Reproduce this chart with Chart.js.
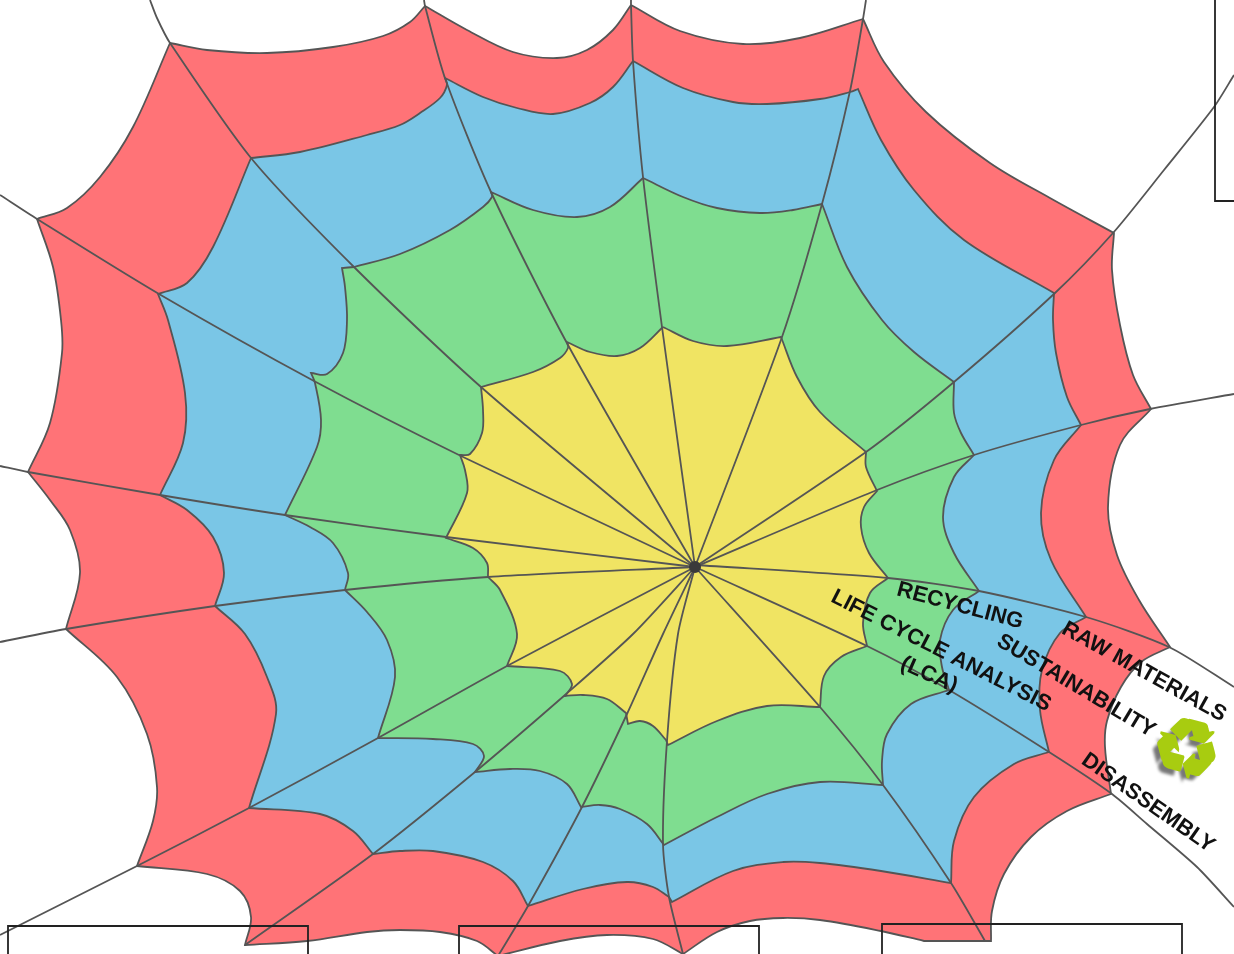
<!DOCTYPE html>
<html>
<head>
<meta charset="utf-8">
<style>
  html, body { margin: 0; padding: 0; background: #fff; overflow: hidden; }
  canvas { display: block; }
</style>
<script src="https://cdn.jsdelivr.net/npm/chart.js@4/dist/chart.umd.min.js"></script>
</head>
<body>
<canvas id="web" width="1234" height="954"></canvas>
<script>
// every ring is a list of arcs, one arc between two neighbouring spokes
const redRing = [
  [[631,5],[680,31],[743,44],[800,38],[863,19]],
  [[863,19],[884,62],[926,112],[990,163],[1050,198],[1114,233]],
  [[1114,233],[1112,270],[1120,325],[1133,375],[1151,409]],
  [[1151,409],[1120,445],[1108,507],[1117,555],[1139,600],[1170,647]],
  [[1170,647],[1141,662],[1121,687],[1107,721],[1105,747],[1111,794]],
  [[1111,794],[1067,811],[1031,837],[1004,874],[992,911],[991,941]],
  [[991,941],[924,941]],
  [[924,941],[881,931],[820,920],[783,918],[750,921],[717,932],[683,954]],
  [[683,954],[653,939],[607,935],[560,941],[498,956]],
  [[498,956],[477,941],[440,932],[400,930],[367,932],[307,941],[245,945]],
  [[245,945],[251,917],[240,891],[207,874],[137,866]],
  [[137,866],[153,821],[157,787],[147,734],[117,677],[66,629]],
  [[66,629],[80,573],[70,530],[50,500],[28,472]],
  [[28,472],[50,423],[62,353],[61,320],[53,267],[37,219]],
  [[37,219],[67,208],[100,177],[133,127],[170,43]],
  [[170,43],[207,50],[267,53],[333,47],[383,36],[410,22],[425,6]],
  [[425,6],[467,30],[513,52],[557,58],[587,50],[613,30],[631,5]]
];
const blueRing = [
  [[633,61],[683,88],[733,102],[767,104],[820,99],[850,92],[858,89]],
  [[858,89],[881,140],[914,190],[964,240],[1054,293]],
  [[1054,293],[1053,320],[1056,353],[1067,397],[1081,425]],
  [[1081,425],[1054,460],[1041,513],[1051,560],[1086,617]],
  [[1086,617],[1060,633],[1042,670],[1040,710],[1049,752]],
  [[1049,752],[1014,764],[974,797],[954,841],[951,883]],
  [[951,883],[881,871],[820,863],[783,862],[733,871],[672,902]],
  [[672,902],[669,897]],
  [[669,897],[653,887],[627,882],[583,889],[528,906]],
  [[528,906],[513,881],[483,862],[433,851],[400,851],[373,854]],
  [[373,854],[353,831],[320,814],[249,808]],
  [[249,808],[276,714],[267,677],[245,634],[215,606]],
  [[215,606],[224,573],[213,537],[187,510],[160,495]],
  [[160,495],[183,443],[185,393],[168,320],[158,294]],
  [[158,294],[187,283],[213,247],[251,158]],
  [[251,158],[300,152],[367,135],[400,125],[420,113],[440,98],[447,85],[445,78]],
  [[445,78],[483,97],[517,108],[553,114],[590,103],[613,87],[633,61]]
];
const greenRing = [
  [[643,178],[683,197],[717,208],[760,213],[793,210],[822,204]],
  [[822,204],[847,267],[882,320],[914,352],[954,382]],
  [[954,382],[954,413],[961,433],[974,455]],
  [[974,455],[954,477],[943,517],[954,553],[979,591]],
  [[979,591],[953,610],[940,640],[942,667],[949,690]],
  [[949,690],[911,704],[887,734],[882,761],[883,785]],
  [[883,785],[820,782],[767,794],[717,817],[664,845]],
  [[664,845],[647,824],[620,809],[600,805],[581,807]],
  [[581,807],[567,784],[540,771],[510,769],[475,772]],
  [[475,772],[484,756],[473,744],[433,739],[378,738]],
  [[378,738],[395,677],[387,640],[367,612],[345,590]],
  [[345,590],[348,573],[333,543],[310,527],[285,515]],
  [[285,515],[317,447],[321,420],[315,383],[311,373]],
  [[311,373],[327,374],[343,353],[347,320],[345,287],[342,268]],
  [[342,268],[354,267]],
  [[354,267],[400,254],[450,230],[483,207],[492,197],[491,192]],
  [[491,192],[533,210],[577,217],[610,207],[643,178]]
];
const yellowRing = [
  [[663,327],[693,341],[727,346],[781,337]],
  [[781,337],[797,377],[820,412],[866,452]],
  [[866,452],[866,467],[877,491]],
  [[877,491],[864,507],[861,527],[869,553],[888,578]],
  [[888,578],[870,593],[863,623],[867,646]],
  [[867,646],[841,657],[824,676],[820,707]],
  [[820,707],[767,706],[717,721],[668,745]],
  [[668,745],[666,740]],
  [[666,740],[653,726],[640,721],[628,724]],
  [[628,724],[626,713]],
  [[626,713],[607,699],[583,695],[565,696]],
  [[565,696],[572,684],[560,671],[507,666]],
  [[507,666],[517,634],[500,590],[488,577]],
  [[488,577],[487,563],[473,548],[446,538]],
  [[446,538],[467,493],[465,470],[460,455]],
  [[460,455],[470,454],[482,433],[483,410],[481,387]],
  [[481,387],[533,372],[560,358],[568,348],[567,342]],
  [[567,342],[590,352],[617,356],[640,348],[663,327]]
];
// threads from the centre out to the page edge
const centre = [[695,567]];
const spokes = [
  [[695,567],[662,327],[643,177],[633,61],[631,5],[631,0]],
  [[695,567],[782,337],[822,204],[850,91],[863,19],[866,0]],
  [[695,567],[866,452],[954,382],[1055,293],[1113,233],[1164,170],[1214,107],[1234,75]],
  [[695,567],[877,490],[974,455],[1081,425],[1150,409],[1234,394]],
  [[695,565],[888,578],[979,591],[1086,617],[1169,647],[1234,687]],
  [[695,567],[867,646],[949,690],[1049,752],[1112,794],[1147,824],[1197,867],[1234,907]],
  [[695,567],[820,707],[883,785],[951,883],[985,941]],
  [[695,567],[678,634],[667,741],[663,844],[669,897],[683,954]],
  [[695,567],[663,634],[627,714],[582,807],[528,906],[498,956]],
  [[695,567],[633,634],[565,695],[475,772],[373,854],[245,945]],
  [[695,567],[507,666],[378,738],[249,808],[137,866],[0,935]],
  [[695,567],[488,577],[345,590],[215,606],[66,629],[0,642]],
  [[695,567],[446,537],[285,515],[160,495],[28,472],[0,466]],
  [[695,567],[461,456],[314,381],[159,294],[37,219],[0,195]],
  [[695,567],[481,387],[354,267],[251,158],[170,43],[157,18],[150,0]],
  [[695,567],[568,345],[491,192],[445,78],[425,6],[424,0]]
];
const boxes = [
  [[8,954],[8,926],[308,926],[308,954]],
  [[459,954],[459,926],[759,926],[759,954]],
  [[882,954],[882,924],[1182,924],[1182,954]],
  [[1234,201],[1215,201],[1215,0]]
];
const iconSpot = [[1185,755]];

// labels along the threads: text, x, y, angle
const labelTexts = ["RECYCLING", "LIFE CYCLE ANALYSIS", "(LCA)", "SUSTAINABILITY", "RAW MATERIALS", "DISASSEMBLY"];
const labelX = [960, 941, 929, 1076, 1144, 1148];
const labelY = [606, 651, 675, 686, 672, 803];
const labelAngle = [15, 27, 24, 31, 29, 35];

const lineColor = "#555555";

// doubled points at each arc end give a sharp corner with the tension on
function ringPoints(arcs) {
  var pts = [];
  arcs.forEach(function (arc) {
    arc.forEach(function (p, i) {
      pts.push({ x: p[0], y: p[1] });
      if (i == 0 || i == arc.length - 1) pts.push({ x: p[0], y: p[1] });
    });
  });
  return pts;
}

function linePoints(list) {
  return list.map(function (p) { return { x: p[0], y: p[1] }; });
}

function ringDataset(arcs, color, order) {
  return {
    data: ringPoints(arcs),
    showLine: true,
    fill: "shape",
    backgroundColor: color,
    borderColor: lineColor,
    borderWidth: 1.8,
    tension: 0.35,
    pointRadius: 0,
    order: order
  };
}

// the recycling badge, used as point style
function makeIcon() {
  const c = document.createElement("canvas");
  c.width = 100;
  c.height = 100;
  const g = c.getContext("2d");
  g.translate(50, 50);
  g.rotate(15 * Math.PI / 180);
  g.textAlign = "center";
  g.textBaseline = "middle";
  g.font = "78px 'DejaVu Sans'";
  g.filter = "blur(1.5px)";
  g.fillStyle = "#777777";
  g.fillText("\u267B", -4, 7);
  g.filter = "blur(0.5px)";
  g.lineWidth = 3;
  g.strokeStyle = "#A8CC10";
  g.fillStyle = "#A8CC10";
  g.strokeText("\u267B", 0, 0);
  g.fillText("\u267B", 0, 0);
  return c;
}

const labelPlugin = {
  id: "labels",
  afterDraw: function (chart) {
    const ctx = chart.ctx;
    const xs = chart.scales.x;
    const ys = chart.scales.y;
    ctx.save();
    ctx.fillStyle = "#111111";
    ctx.font = "bold 22px 'Liberation Sans'";
    ctx.textAlign = "center";
    ctx.textBaseline = "middle";
    for (let i = 0; i < labelTexts.length; i++) {
      ctx.save();
      ctx.translate(xs.getPixelForValue(labelX[i]), ys.getPixelForValue(labelY[i]));
      ctx.rotate(labelAngle[i] * Math.PI / 180);
      ctx.fillText(labelTexts[i], 0, 0);
      ctx.restore();
    }
    ctx.restore();
  }
};

var datasets = [
  ringDataset(redRing, "#FF7377", 5),
  ringDataset(blueRing, "#7AC6E6", 4),
  ringDataset(greenRing, "#7FDD90", 3),
  ringDataset(yellowRing, "#F0E463", 2)
];

spokes.forEach(function (s) {
  datasets.push({
    data: linePoints(s),
    showLine: true,
    fill: false,
    borderColor: lineColor,
    borderWidth: 1.8,
    tension: 0.25,
    pointRadius: 0,
    order: 1
  });
});

boxes.forEach(function (b) {
  datasets.push({
    data: linePoints(b),
    showLine: true,
    fill: false,
    borderColor: "#222222",
    borderWidth: 1.8,
    pointRadius: 0,
    order: 0
  });
});

datasets.push({
  data: linePoints(centre),
  backgroundColor: "#3a3a3a",
  borderWidth: 0,
  pointRadius: 6,
  order: 0
});

datasets.push({
  data: linePoints(iconSpot),
  pointStyle: makeIcon(),
  pointRadius: 50,
  order: 0
});

const myChart = new Chart(document.getElementById("web"), {
  type: "scatter",
  data: { datasets: datasets },
  options: {
    responsive: false,
    animation: false,
    layout: { padding: 0, autoPadding: false },
    plugins: { legend: { display: false }, tooltip: { enabled: false } },
    scales: {
      x: { type: "linear", min: 0, max: 1234, display: false },
      y: { type: "linear", min: 0, max: 954, reverse: true, display: false }
    }
  },
  plugins: [labelPlugin]
});
</script>
</body>
</html>
